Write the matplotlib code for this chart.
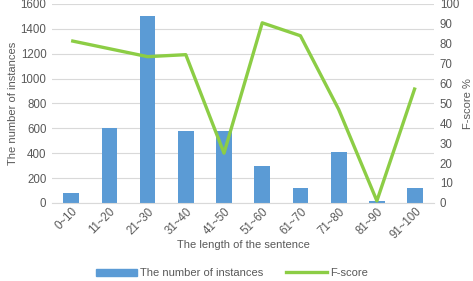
import matplotlib.pyplot as plt
import matplotlib.patches as mpatches
import matplotlib.lines as mlines
import numpy as np

categories = ['0~10', '11~20', '21~30', '31~40', '41~50',
              '51~60', '61~70', '71~80', '81~90', '91~100']
instances = [80, 600, 1500, 575, 580, 300, 120, 410, 15, 120]
fscore = [81.5, 77.5, 73.5, 74.5, 25, 90.5, 84, 47, 1, 58]

plt.rcParams['font.family'] = ['Liberation Sans', 'DejaVu Sans']
txt = '#595959'

fig = plt.figure(figsize=(4.73, 2.81), dpi=100)
ax = fig.add_axes([0.11, 0.278, 0.808, 0.708])
ax2 = ax.twinx()

x = np.arange(len(categories))
ax.bar(x, instances, 0.41, color='#5B9BD5', zorder=2)
ax2.plot(x, fscore, color='#8CCD45', linewidth=2.4, solid_capstyle='butt', zorder=3)

ax.set_xlim(-0.5, len(categories) - 0.5)
ax.set_ylim(0, 1600)
ax.set_yticks(np.arange(0, 1601, 200))
ax2.set_ylim(0, 100)
ax2.set_yticks(np.arange(0, 101, 10))
ax.yaxis.grid(True, color='#D9D9D9', linewidth=0.8)
ax.set_axisbelow(True)

for a in (ax, ax2):
    for s in a.spines.values():
        s.set_visible(False)
    a.tick_params(length=0, labelsize=8.3, colors=txt, pad=4)
ax.spines['bottom'].set_visible(True)
ax.spines['bottom'].set_color('#D9D9D9')

ax.set_xticks(x)
ax.set_xticklabels(categories, rotation=45, ha='right', rotation_mode='anchor')
ax.tick_params(axis='x', pad=2)
ax.set_ylabel('The number of instances', fontsize=8, color=txt, labelpad=2)
ax2.set_ylabel('F-score %', fontsize=8, color=txt, labelpad=3)
ax.set_xlabel('The length of the sentence', fontsize=8, color=txt, labelpad=-1)

patch = mpatches.Patch(color='#5B9BD5', label='The number of instances')
line = mlines.Line2D([], [], color='#8CCD45', linewidth=2.4, label='F-score')
fig.legend(handles=[patch, line], loc='lower center', bbox_to_anchor=(0.49, -0.025),
           ncol=2, frameon=False, fontsize=8, labelcolor=txt,
           handlelength=3.7, handleheight=0.6, columnspacing=2.0, handletextpad=0.3)

fig.savefig('out.png', dpi=100)
